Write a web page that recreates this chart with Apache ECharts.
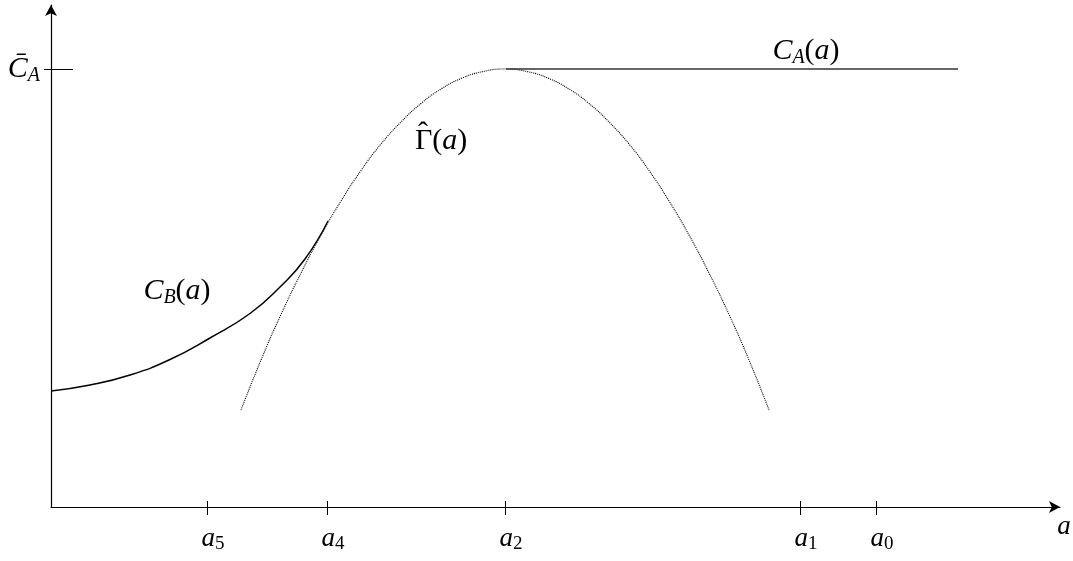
<!DOCTYPE html>
<html>
<head>
<meta charset="utf-8">
<script src="https://cdn.jsdelivr.net/npm/echarts@6/dist/echarts.min.js"></script>
<style>html,body{margin:0;padding:0;background:#fff}#c{width:1073px;height:561px}</style>
</head>
<body>
<div id="c"></div>
<script>
// ---- data (abstract units) ----
const xTickValues = [15.6, 27.6, 45.4, 74.9, 82.5];
const xTickSubs   = ['5', '4', '2', '1', '0'];
const yTickValues = [43.8];

// C_B(a): solid curve
const cbX = [0, 3.9, 7.9, 11.9, 15.9, 19.9, 22.9, 25.4, 27.7];
const cbY = [11.6, 12.2, 13.2, 14.75, 16.9, 19.35, 22.0, 24.8, 28.6];

// Gamma-hat(a): dotted parabola
const gX = [19.0, 21.0, 23.0, 25.0, 27.0, 29.0, 31.0, 33.0, 35.0, 37.0, 39.0, 41.0, 43.0, 45.4,
            47.8, 49.8, 51.8, 53.8, 55.8, 57.8, 59.8, 61.8, 63.8, 65.8, 67.8, 69.8, 71.8];
const gY = [9.7, 14.7, 19.25, 23.4, 27.2, 30.6, 33.65, 36.3, 38.5, 40.35, 41.8, 42.85, 43.5, 43.8,
            43.5, 42.85, 41.8, 40.35, 38.5, 36.3, 33.65, 30.6, 27.2, 23.4, 19.25, 14.7, 9.7];

// C_A(a): horizontal line
const caX = [45.5, 90.7];
const caY = [43.8, 43.8];

const zip = (xs, ys) => xs.map((x, i) => [x, ys[i]]);

const FONT = '"Liberation Serif", "DejaVu Serif", serif';
const FS = 30;
const chart = echarts.init(document.getElementById('c'), null, {renderer: 'canvas'});

const mathRich = {
  c: {fontFamily: FONT, fontStyle: 'italic', fontSize: FS, lineHeight: 34, verticalAlign: 'middle', color: '#000'},
  s: {fontFamily: FONT, fontStyle: 'italic', fontSize: 20, lineHeight: 34, verticalAlign: 'bottom', color: '#000'},
  p: {fontFamily: FONT, fontSize: FS, lineHeight: 34, verticalAlign: 'middle', color: '#000'},
  i: {fontFamily: FONT, fontStyle: 'italic', fontSize: FS, lineHeight: 34, verticalAlign: 'middle', color: '#000'},
  g: {fontFamily: FONT, fontSize: FS, lineHeight: 34, verticalAlign: 'middle', color: '#000'}
};

const xLabelRich = {
  a: {fontFamily: FONT, fontStyle: 'italic', fontSize: 27, color: '#000', lineHeight: 30, verticalAlign: 'middle'},
  s: {fontFamily: FONT, fontSize: 19, color: '#000', lineHeight: 30, verticalAlign: 'bottom'}
};

chart.setOption({
  animation: false,
  backgroundColor: '#fff',
  grid: {left: 51, right: 13, top: 5, bottom: 54, containLabel: false},
  xAxis: [
    {
      type: 'value', min: 0, max: 100.9, position: 'bottom',
      axisLine: {show: true, lineStyle: {color: '#000', width: 1.2}, symbol: ['none', 'arrow'], symbolSize: [9, 11]},
      axisTick: {show: true, inside: false, length: 8, customValues: xTickValues, lineStyle: {color: '#000', width: 1}},
      axisLabel: {
        show: true, customValues: xTickValues, margin: 17, padding: [0, 0, 0, 12],
        formatter: v => {
          const i = xTickValues.findIndex(t => Math.abs(t - v) < 1e-6);
          return '{a|a}{s|' + (i >= 0 ? xTickSubs[i] : '') + '}';
        },
        rich: xLabelRich
      },
      splitLine: {show: false}
    },
    {
      type: 'value', min: 0, max: 100.9, position: 'bottom',
      axisLine: {show: false},
      axisTick: {show: true, inside: true, length: 6, customValues: xTickValues, lineStyle: {color: '#000', width: 1}},
      axisLabel: {show: false},
      splitLine: {show: false}
    }
  ],
  yAxis: [
    {
      type: 'value', min: 0, max: 50.2, position: 'left',
      axisLine: {show: true, lineStyle: {color: '#000', width: 1.2}, symbol: ['none', 'arrow'], symbolSize: [9, 11]},
      axisTick: {show: true, inside: false, length: 7, customValues: yTickValues, lineStyle: {color: '#000', width: 1}},
      axisLabel: {
        show: true, customValues: yTickValues, margin: 11,
        formatter: () => '{c|C\u0304}{s|A}',
        rich: mathRich
      },
      splitLine: {show: false}
    },
    {
      type: 'value', min: 0, max: 50.2, position: 'left',
      axisLine: {show: false},
      axisTick: {show: true, inside: true, length: 22, customValues: yTickValues, lineStyle: {color: '#000', width: 1}},
      axisLabel: {show: false},
      splitLine: {show: false}
    }
  ],
  series: [
    {
      name: 'Gamma', type: 'line', xAxisIndex: 0, yAxisIndex: 0, data: zip(gX, gY), smooth: true,
      showSymbol: false, symbol: 'none', z: 2,
      lineStyle: {color: '#000', width: 1.1, type: [1, 1]}
    },
    {
      name: 'CB', type: 'line', xAxisIndex: 0, yAxisIndex: 0, data: zip(cbX, cbY), smooth: true,
      showSymbol: false, symbol: 'none', z: 3,
      lineStyle: {color: '#000', width: 1.5}
    },
    {
      name: 'CA', type: 'line', xAxisIndex: 0, yAxisIndex: 0, data: zip(caX, caY),
      showSymbol: false, symbol: 'none', z: 3,
      lineStyle: {color: '#333', width: 1.4}
    }
  ],
  graphic: [
    {type: 'text', x: 806, y: 51, style: {rich: mathRich, text: '{c|C}{s|A}{p|(}{i|a}{p|)}', align: 'center', verticalAlign: 'middle'}},
    {type: 'text', x: 415, y: 141, style: {rich: mathRich, text: '{g|\u0393}{p|(}{i|a}{p|)}', align: 'left', verticalAlign: 'middle'}},
    {type: 'text', x: 423, y: 134, style: {text: '\u02C6', fontFamily: FONT, fontSize: 30, align: 'center', verticalAlign: 'middle', fill: '#000'}},
    {type: 'text', x: 177, y: 291, style: {rich: mathRich, text: '{c|C}{s|B}{p|(}{i|a}{p|)}', align: 'center', verticalAlign: 'middle'}},
    {type: 'text', x: 1064, y: 527, style: {text: 'a', fontFamily: FONT, fontStyle: 'italic', fontSize: 27, align: 'center', verticalAlign: 'middle', fill: '#000'}}
  ]
});
</script>
</body>
</html>
